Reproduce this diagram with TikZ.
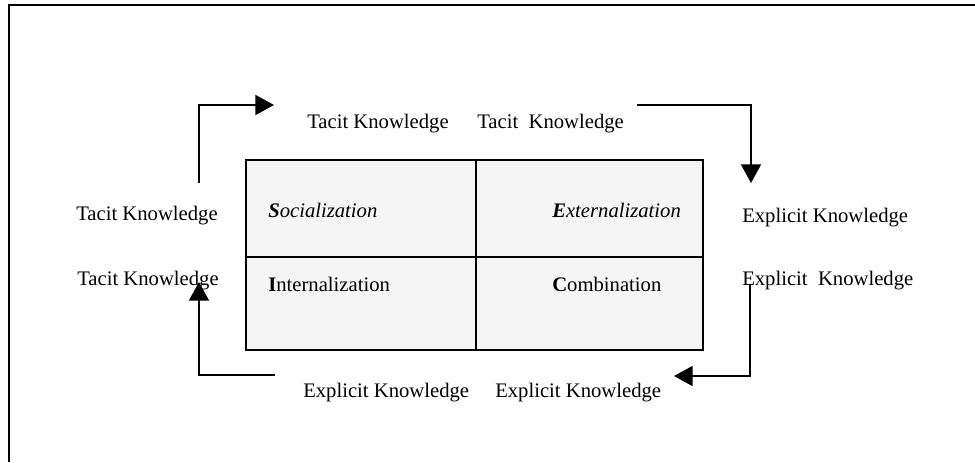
\documentclass[tikz,border=0pt]{standalone}
\usepackage{fontspec}
\setmainfont{Liberation Serif}
\usetikzlibrary{arrows.meta}
\begin{document}
\begin{tikzpicture}[x=0.75pt,y=-0.75pt,
    lbl/.style={font=\fontsize{15.5}{18}\selectfont, inner sep=0pt, anchor=west},
    cell/.style={font=\fontsize{15.5}{18}\selectfont, inner sep=0pt, anchor=west},
    flow/.style={line width=1.4pt, -{Triangle[length=14pt,width=15pt]}},
    frame/.style={line width=1.5pt}]
\useasboundingbox (0,0) rectangle (975,462);

% outer frame (top and left edges)
\draw[frame] (9,462) -- (9,5) -- (975,5);

% the 2x2 matrix
\fill[gray!8] (246,160) rectangle (703,350);
\draw[line width=1.5pt] (246,160) rectangle (703,350);
\draw[line width=1.3pt] (476,160) -- (476,350);
\draw[line width=1.3pt] (246,257) -- (703,257);

\node[cell] (soc) at (268,210) {\textit{\textbf{S}ocialization}};
\node[cell] (ext) at (552,210) {\textit{\textbf{E}xternalization}};
\node[cell] (int) at (268,284) {\textbf{I}nternalization};
\node[cell] (com) at (552,284) {\textbf{C}ombination};

% labels around the matrix
\node[lbl] (tkTopA) at (307,124) {Tacit Knowledge};
\node[lbl] (tkTopB) at (477,124) {Tacit\ \ Knowledge};
\node[lbl] (tkLeftA) at (76,216) {Tacit Knowledge};
\node[lbl] (tkLeftB) at (77,281) {Tacit Knowledge};
\node[lbl] (ekRightA) at (742,218) {Explicit Knowledge};
\node[lbl] (ekRightB) at (742,281) {Explicit\ \ Knowledge};
\node[lbl] (ekBotA) at (303,393) {Explicit Knowledge};
\node[lbl] (ekBotB) at (495,393) {Explicit Knowledge};

% connector end points
\coordinate (tlStart) at (199,183);
\coordinate (tlCorner) at (199,105);
\coordinate (tlEnd) at (274,105);
\coordinate (trStart) at (637,105);
\coordinate (trCorner) at (751,105);
\coordinate (trEnd) at (751,183);
\coordinate (brStart) at (750,284);
\coordinate (brCorner) at (750,376);
\coordinate (brEnd) at (674,376);
\coordinate (blStart) at (275,375);
\coordinate (blCorner) at (199,375);
\coordinate (blEnd) at (199,282);

% the knowledge spiral
\draw[flow] (tlStart) -- (tlCorner) -- (tlEnd);
\draw[flow] (trStart) -- (trCorner) -- (trEnd);
\draw[flow] (brStart) -- (brCorner) -- (brEnd);
\draw[flow] (blStart) -- (blCorner) -- (blEnd);
\end{tikzpicture}
\end{document}
